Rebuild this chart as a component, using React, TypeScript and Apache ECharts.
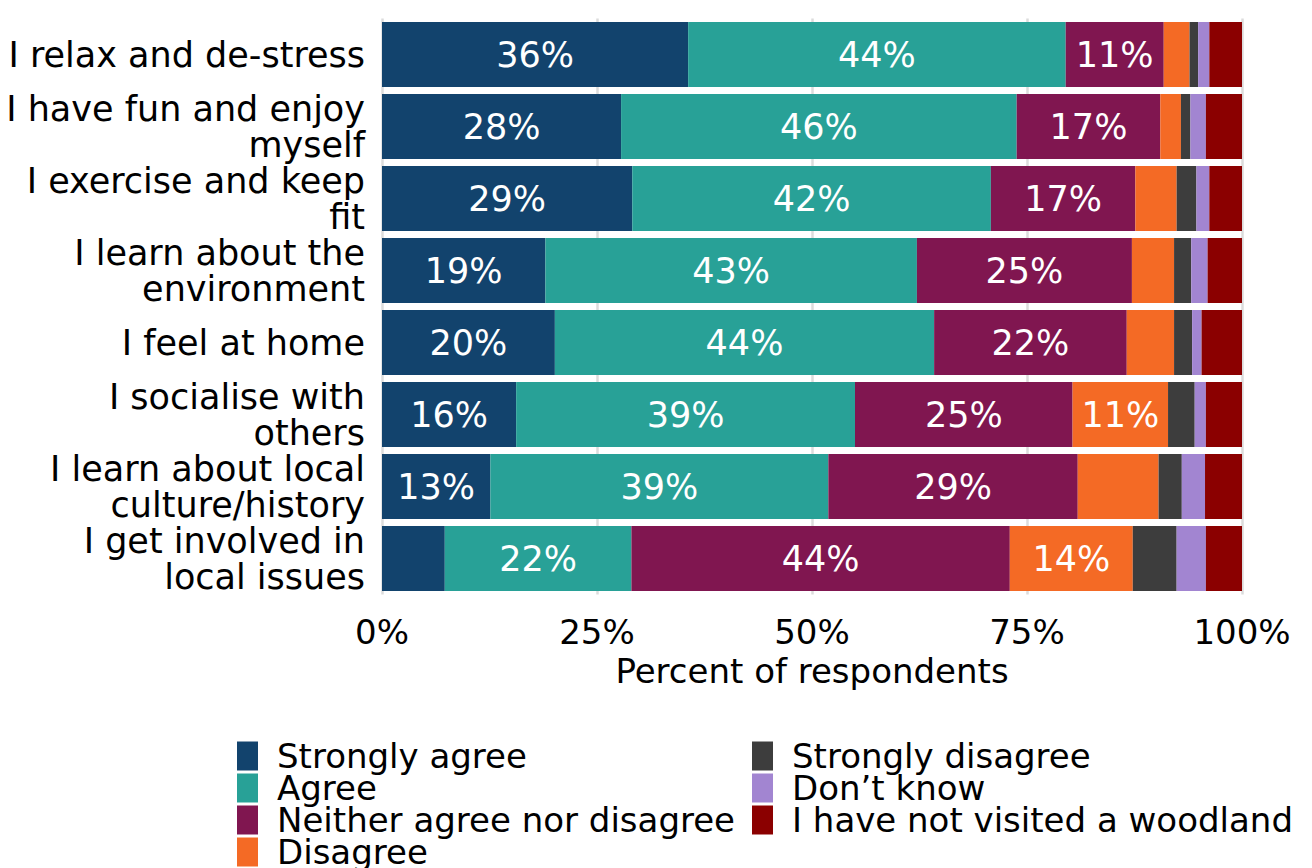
import React, { useEffect, useRef } from "react";
import * as echarts from "echarts";

const categories = [
  "I relax and de-stress",
  "I have fun and enjoy\nmyself",
  "I exercise and keep\nfit",
  "I learn about the\nenvironment",
  "I feel at home",
  "I socialise with\nothers",
  "I learn about local\nculture/history",
  "I get involved in\nlocal issues",
];

const seriesNames = [
  "Strongly agree",
  "Agree",
  "Neither agree nor disagree",
  "Disagree",
  "Strongly disagree",
  "Don\u2019t know",
  "I have not visited a woodland",
];

const colors = ["#12436D", "#28A197", "#801650", "#F46A25", "#3D3D3D", "#A285D1", "#8B0000"];

const stronglyAgree = [35.6, 27.8, 29.1, 19.0, 20.1, 15.6, 12.6, 7.3];
const agree = [43.9, 46.0, 41.7, 43.2, 44.1, 39.4, 39.3, 21.7];
const neither = [11.4, 16.7, 16.8, 25.0, 22.4, 25.3, 29.0, 44.0];
const disagree = [3.0, 2.4, 4.8, 4.9, 5.5, 11.1, 9.4, 14.3];
const stronglyDisagree = [1.0, 1.1, 2.3, 2.0, 2.1, 3.1, 2.7, 5.1];
const dontKnow = [1.3, 1.8, 1.5, 1.9, 1.1, 1.3, 2.7, 3.4];
const notVisited = [3.8, 4.2, 3.8, 4.0, 4.7, 4.2, 4.3, 4.2];

const xTicks = [0, 25, 50, 75, 100];

const FONT = "DejaVu Sans";

export default function App() {
  const ref = useRef<HTMLDivElement>(null);
  useEffect(() => {
    if (!ref.current) return;
    const chart = echarts.init(ref.current, null, { renderer: "svg" });
    const values = [stronglyAgree, agree, neither, disagree, stronglyDisagree, dontKnow, notVisited];
    const series = values.map((vals, i) => ({
      name: seriesNames[i],
      type: "bar",
      stack: "total",
      barWidth: 65,
      data: vals,
      itemStyle: { color: colors[i] },
      label: {
        show: true,
        position: "inside",
        color: "#ffffff",
        fontFamily: FONT,
        fontSize: 35,
        formatter: (p: any) => (p.value >= 10 ? `${Math.round(p.value)}%` : ""),
      },
    }));
    const legendBase = {
      orient: "vertical",
      top: 739,
      height: 300,
      padding: 0,
      itemWidth: 21,
      itemHeight: 29,
      itemGap: -2,
      icon: "rect",
      selectedMode: false,
      textStyle: {
        fontFamily: FONT,
        fontSize: 34,
        color: "#000",
        padding: [0, 0, 0, 14],
      },
    };
    chart.setOption({
      animation: false,
      textStyle: { fontFamily: FONT },
      grid: { left: 382, right: 1312 - 1242, top: 18.5, height: 576 },
      xAxis: {
        type: "value",
        min: 0,
        max: 100,
        interval: 25,
        axisLine: { show: false },
        axisTick: { show: false },
        splitLine: { show: true, lineStyle: { color: "#dcdcdc", width: 2.5 } },
        axisLabel: {
          fontFamily: FONT,
          fontSize: 34,
          color: "#000",
          margin: 20,
          formatter: (v: number) => (xTicks.includes(v) ? `${v}%` : ""),
        },
        name: "Percent of respondents",
        nameLocation: "middle",
        nameGap: 59,
        nameTextStyle: { fontFamily: FONT, fontSize: 34, color: "#000" },
      },
      yAxis: {
        type: "category",
        inverse: true,
        data: categories,
        axisLine: { show: false },
        axisTick: { show: false },
        axisLabel: {
          fontFamily: FONT,
          fontSize: 35,
          color: "#000",
          margin: 17,
          lineHeight: 36,
          align: "right",
        },
      },
      legend: [
        { ...legendBase, data: seriesNames.slice(0, 4), left: 237 },
        { ...legendBase, data: seriesNames.slice(4), left: 752 },
      ],
      series,
    });
    return () => chart.dispose();
  }, []);
  return (
    <div
      ref={ref}
      style={{ position: "fixed", left: 0, top: 0, width: 1312, height: 868, background: "#fff" }}
    />
  );
}
